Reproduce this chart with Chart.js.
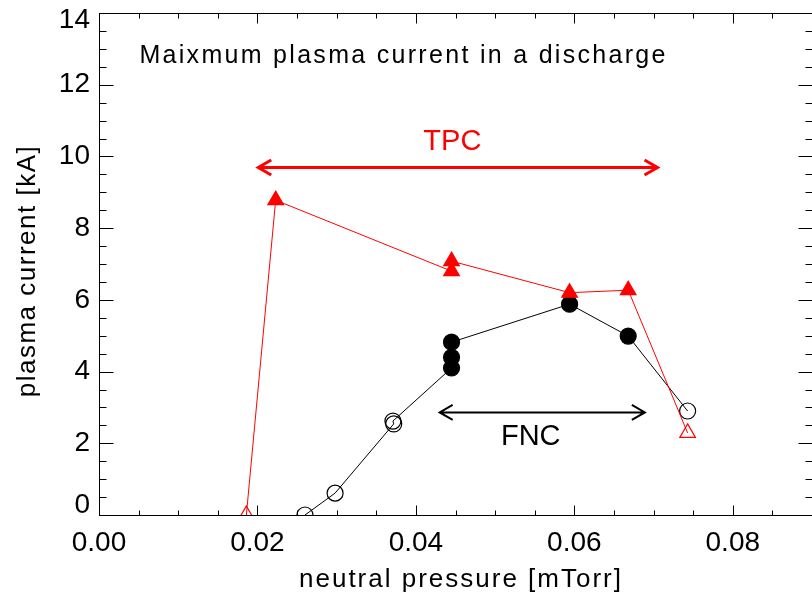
<!DOCTYPE html>
<html>
<head>
<meta charset="utf-8">
<script src="https://cdn.jsdelivr.net/npm/chart.js@4.4.1/dist/chart.umd.min.js"></script>
<style>
  html, body { margin: 0; padding: 0; background: #fff; overflow: hidden; }
  canvas { display: block; }
</style>
</head>
<body>
<canvas id="chart" width="812" height="593"></canvas>
<script>
// TPC (red triangles), open symbols at both ends
const tpcPressure = [0.0186, 0.0223, 0.0445, 0.0445, 0.0594, 0.0668, 0.0743];
const tpcCurrent  = [0.0, 8.78, 6.80, 7.08, 6.20, 6.27, 2.29];
const tpcOpen     = [true, false, false, false, false, false, true];

// FNC (black circles)
const fncPressure = [0.0260, 0.0298, 0.0372, 0.0371, 0.0445, 0.0445, 0.0445, 0.0594, 0.0668, 0.0743];
const fncCurrent  = [0.0, 0.61, 2.54, 2.62, 4.10, 4.40, 4.82, 5.88, 4.99, 2.90];
const fncOpen     = [true, true, true, true, false, false, false, false, false, true];

const xTickValues = [0, 0.02, 0.04, 0.06, 0.08];
const yTickValues = [0, 2, 4, 6, 8, 10, 12, 14];

const chartTitle = "Maixmum plasma current in a discharge";
const xTitle = "neutral pressure [mTorr]";
const yTitle = "plasma current [kA]";

// annotations, in data units
const tpcArrow = { from: 0.0201, to: 0.0705, y: 9.69 };
const fncArrow = { from: 0.0430, to: 0.0689, y: 2.86 };
const tpcLabel = { text: "TPC", x: 0.0446, y: 10.17 };
const fncLabel = { text: "FNC", x: 0.0545, y: 1.95 };
const titlePos = { x: 0.0051, y: 12.6 };

const FONT = '"Liberation Sans", Arial, Helvetica, sans-serif';

function toPoints(xs, ys) {
  return xs.map((x, i) => ({ x, y: ys[i] }));
}

function fills(open, color) {
  return open.map(o => (o ? "rgba(0,0,0,0)" : color));
}

function drawArrow(ctx, x1, x2, y, color, width) {
  ctx.strokeStyle = color;
  ctx.lineWidth = width;
  ctx.lineCap = "butt";
  ctx.beginPath();
  ctx.moveTo(x1, y);
  ctx.lineTo(x2, y);
  ctx.moveTo(x1 + 13, y - 7.5);
  ctx.lineTo(x1, y);
  ctx.lineTo(x1 + 13, y + 7.5);
  ctx.moveTo(x2 - 13, y - 7.5);
  ctx.lineTo(x2, y);
  ctx.lineTo(x2 - 13, y + 7.5);
  ctx.stroke();
}

// IDL style frame: inward ticks on all four sides plus the text
const idlFrame = {
  id: "idlFrame",
  afterDraw(chart) {
    const ctx = chart.ctx;
    const xs = chart.scales.x;
    const ys = chart.scales.y;
    const { left, right, top, bottom } = chart.chartArea;
    const L = Math.round(left) + 0.5, R = Math.round(right) + 0.5;
    const T = Math.round(top) + 0.5, B = Math.round(bottom) + 0.5;

    ctx.save();
    ctx.strokeStyle = "#000";
    ctx.lineWidth = 1;
    ctx.strokeRect(L, T, R - L, B - T);

    ctx.beginPath();
    for (let k = 0; k <= 18; k++) {
      const px = Math.round(xs.getPixelForValue(k * 0.005)) + 0.5;
      const len = k % 4 === 0 ? 10 : 5;
      ctx.moveTo(px, B); ctx.lineTo(px, B - len);
      ctx.moveTo(px, T); ctx.lineTo(px, T + len);
    }
    for (let k = 0; k <= 28; k++) {
      const py = Math.round(ys.getPixelForValue(k * 0.5)) + 0.5;
      const len = k % 4 === 0 ? 14 : 7;
      ctx.moveTo(L, py); ctx.lineTo(L + len, py);
      ctx.moveTo(R, py); ctx.lineTo(R - len, py);
    }
    ctx.stroke();

    // y tick labels, end labels pulled inside like IDL does
    ctx.fillStyle = "#000";
    ctx.font = "28px " + FONT;
    ctx.textAlign = "right";
    ctx.textBaseline = "middle";
    yTickValues.forEach(v => {
      let py = ys.getPixelForValue(v);
      py = Math.min(Math.max(py, top + 7), bottom - 10);
      ctx.fillText(String(v), 90, py);
    });

    // titles
    ctx.textBaseline = "alphabetic";
    ctx.font = "25px " + FONT;
    ctx.letterSpacing = "2.3px";
    ctx.textAlign = "left";
    ctx.fillText(chartTitle, xs.getPixelForValue(titlePos.x), ys.getPixelForValue(titlePos.y));

    ctx.font = "26px " + FONT;
    ctx.letterSpacing = "2px";
    ctx.textAlign = "center";
    ctx.fillText(xTitle, 461, 587);

    ctx.letterSpacing = "1.5px";
    ctx.save();
    ctx.translate(35, 271);
    ctx.rotate(-Math.PI / 2);
    ctx.fillText(yTitle, 0, 0);
    ctx.restore();

    ctx.letterSpacing = "0px";
    ctx.font = "29px " + FONT;
    ctx.fillStyle = "#ff0000";
    ctx.fillText(tpcLabel.text, xs.getPixelForValue(tpcLabel.x), ys.getPixelForValue(tpcLabel.y));
    ctx.fillStyle = "#000";
    ctx.fillText(fncLabel.text, xs.getPixelForValue(fncLabel.x), ys.getPixelForValue(fncLabel.y));

    drawArrow(ctx, xs.getPixelForValue(tpcArrow.from), xs.getPixelForValue(tpcArrow.to),
      ys.getPixelForValue(tpcArrow.y), "#ff0000", 3);
    drawArrow(ctx, xs.getPixelForValue(fncArrow.from), xs.getPixelForValue(fncArrow.to),
      ys.getPixelForValue(fncArrow.y), "#000", 2);
    ctx.restore();
  }
};

const ctx = document.getElementById("chart").getContext("2d");
const chart = new Chart(ctx, {
  type: "scatter",
  data: {
    datasets: [
      {
        label: "TPC",
        data: toPoints(tpcPressure, tpcCurrent),
        showLine: true,
        borderColor: "#ff0000",
        borderWidth: 1,
        pointStyle: "triangle",
        pointRadius: 9,
        pointBorderWidth: 1.2,
        pointBorderColor: "#ff0000",
        pointBackgroundColor: fills(tpcOpen, "#ff0000"),
        clip: 0
      },
      {
        label: "FNC",
        data: toPoints(fncPressure, fncCurrent),
        showLine: true,
        borderColor: "#000",
        borderWidth: 1,
        pointStyle: "circle",
        pointRadius: 8,
        pointBorderWidth: 1.2,
        pointBorderColor: "#000",
        pointBackgroundColor: fills(fncOpen, "#000"),
        clip: 0
      }
    ]
  },
  options: {
    responsive: false,
    animation: false,
    devicePixelRatio: 1,
    // the right axis sits just outside the picture, as in the original crop
    layout: { autoPadding: false, padding: { top: 13, right: -6, left: 0, bottom: 0 } },
    plugins: {
      legend: { display: false },
      tooltip: { enabled: false }
    },
    scales: {
      x: {
        type: "linear",
        min: 0,
        max: 0.09,
        afterBuildTicks: scale => { scale.ticks = xTickValues.map(v => ({ value: v })); },
        afterFit: scale => {
          scale.height = 78;
          scale.paddingLeft = 0;
          scale.paddingRight = 0;
        },
        grid: { display: false, drawTicks: false },
        border: { display: false },
        ticks: {
          color: "#000",
          padding: 11,
          maxRotation: 0,
          font: { family: FONT, size: 28 },
          callback: v => Number(v).toFixed(2)
        }
      },
      y: {
        type: "linear",
        min: 0,
        max: 14,
        afterBuildTicks: scale => { scale.ticks = yTickValues.map(v => ({ value: v })); },
        afterFit: scale => { scale.width = 99; },
        grid: { display: false, drawTicks: false },
        border: { display: false },
        ticks: { display: false }
      }
    }
  },
  plugins: [idlFrame]
});
</script>
</body>
</html>
